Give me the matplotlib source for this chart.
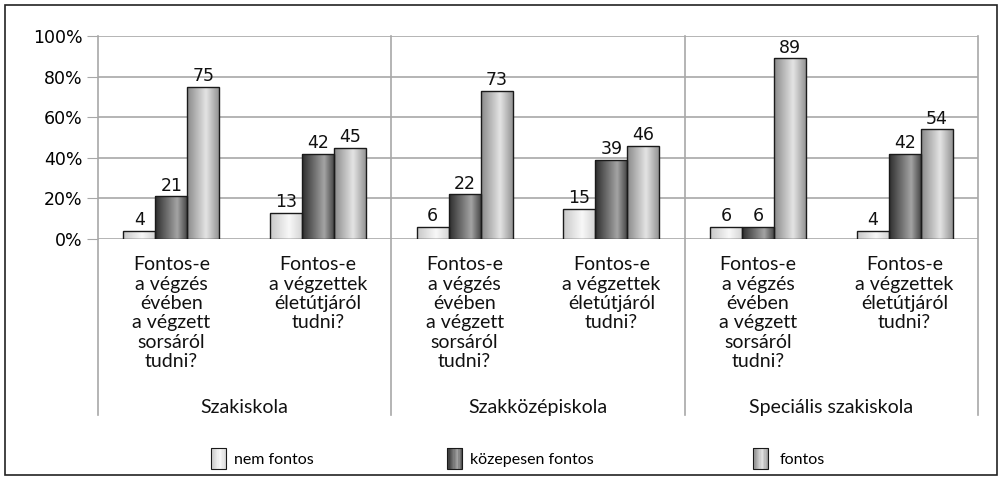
import numpy as np
import matplotlib
matplotlib.use("Agg")
import matplotlib.pyplot as plt
from matplotlib.colors import LinearSegmentedColormap
from matplotlib.patches import Rectangle, Patch
from matplotlib.legend_handler import HandlerBase

# data
questions = ["Fontos-e\na végzés\névében\na végzett\nsorsáról\ntudni?",
             "Fontos-e\na végzettek\néletútjáról\ntudni?"] * 3
schools = ["Szakiskola", "Szakközépiskola", "Speciális szakiskola"]
series_names = ["nem fontos", "közepesen fontos", "fontos"]
nem_fontos = [4, 13, 6, 15, 6, 4]
kozepesen = [21, 42, 22, 39, 6, 42]
fontos = [75, 45, 73, 46, 89, 54]
values = [nem_fontos, kozepesen, fontos]

# cylinder-like shading for each series
cmaps = [
    LinearSegmentedColormap.from_list("c0", [(0, "#c8c8c8"), (0.6, "#f8f8f8"), (1, "#d6d6d6")]),
    LinearSegmentedColormap.from_list("c1", [(0, "#2e2e2e"), (0.7, "#a4a4a4"), (1, "#4a4a4a")]),
    LinearSegmentedColormap.from_list("c2", [(0, "#8a8a8a"), (0.6, "#e4e4e4"), (1, "#969696")]),
]

grid_col = "#a8a8a8"
cat_font = "Lato"

fig = plt.figure(figsize=(10.02, 4.80), dpi=100)
ax = fig.add_axes([98 / 1002, 1 - 239 / 480, 880 / 1002, 203 / 480])

x = np.arange(len(questions))
w = 0.218
grad = np.linspace(0, 1, 64).reshape(1, -1)
for i, vals in enumerate(values):
    bars = ax.bar(x + (i - 1) * w, vals, w, facecolor="none", edgecolor="#1a1a1a",
                  linewidth=1.0, zorder=4)
    for b, v in zip(bars, vals):
        x0, x1 = b.get_x(), b.get_x() + b.get_width()
        im = ax.imshow(grad, cmap=cmaps[i], extent=[x0, x1, 0, v], aspect="auto",
                       zorder=3, interpolation="bicubic")
        im.set_clip_path(b)
        ax.text(b.get_x() + b.get_width() / 2, v + 0.8, str(v), ha="center", va="bottom",
                fontsize=12.5, family="DejaVu Sans", color="#111111", zorder=5)

ax.set_xlim(-0.5, len(questions) - 0.5)
ax.set_ylim(0, 100)
ax.set_yticks(np.arange(0, 101, 20))
ax.set_yticklabels([f"{t}%" for t in range(0, 101, 20)], fontsize=12.5, family="DejaVu Sans")
ax.tick_params(axis="y", length=8, color=grid_col, pad=3)
ax.set_xticks([])
for s in ax.spines.values():
    s.set_visible(False)
for t in range(0, 101, 20):
    ax.axhline(t, color=grid_col, lw=1.2, zorder=1)

# group separators, extending below into label area
xt = ax.get_xaxis_transform()
for gx in [-0.5, 1.5, 3.5, 5.5]:
    ax.plot([gx, gx], [1, -0.865], transform=xt, color=grid_col, lw=1.2,
            clip_on=False, zorder=1)

for xi, q in zip(x, questions):
    ax.text(xi, -0.085, q, transform=xt, ha="center", va="top", fontsize=14,
            family=cat_font, linespacing=1.17, color="#111111")
for gi, s in enumerate(schools):
    ax.text(2 * gi + 0.5, -0.83, s, transform=xt, ha="center", va="center",
            fontsize=14, family=cat_font, color="#111111")


class GradHandler(HandlerBase):
    def __init__(self, cmap):
        super().__init__()
        self.cmap = cmap

    def create_artists(self, legend, orig_handle, xdescent, ydescent, width, height,
                       fontsize, trans):
        sw = 11
        sh = 15
        x0 = -xdescent
        y0 = -ydescent + (height - sh) / 2
        n = 12
        arts = []
        for k in range(n):
            arts.append(Rectangle((x0 + k * sw / n, y0), sw / n + 0.3, sh,
                                  facecolor=self.cmap((k + 0.5) / n), edgecolor="none",
                                  transform=trans))
        arts.append(Rectangle((x0, y0), sw, sh, facecolor="none", edgecolor="#1a1a1a",
                              lw=0.8, transform=trans))
        return arts


# legend entries placed individually, like the reference
leg_x = [211, 447, 753]
leg_pad = [0.72, 0.76, 0.97]
for name, cm, lx, pad in zip(series_names, cmaps, leg_x, leg_pad):
    h = Patch(label=name)
    fig.legend(handles=[h], labels=[name], loc="center left",
               bbox_to_anchor=(lx / 1002, 1 - 460 / 480), frameon=False,
               handler_map={h: GradHandler(cm)}, borderpad=0, borderaxespad=0,
               prop={"family": cat_font, "size": 11.5}, handlelength=0.7,
               handletextpad=pad)

fig.add_artist(Rectangle((5 / 1002, 5 / 480), 992 / 1002, 470 / 480, transform=fig.transFigure,
                         facecolor="none", edgecolor="#222222", lw=1.2))

fig.savefig("out.png", dpi=100)
